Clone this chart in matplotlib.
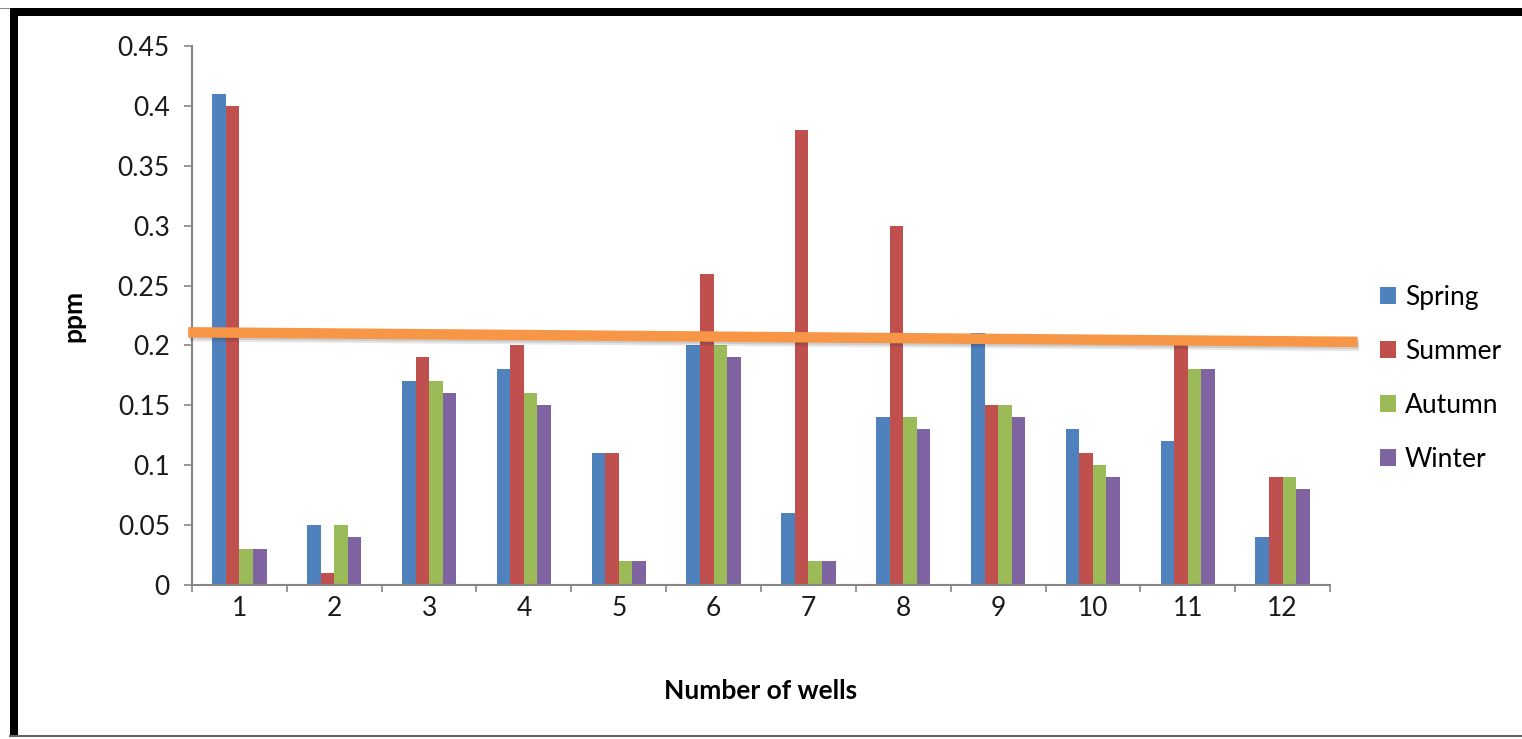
import numpy as np
import matplotlib
matplotlib.use("Agg")
import matplotlib.pyplot as plt
import matplotlib.patheffects as pe
from matplotlib.patches import Rectangle
from matplotlib.lines import Line2D

plt.rcParams['font.family'] = ['Lato', 'DejaVu Sans']

wells = [1, 2, 3, 4, 5, 6, 7, 8, 9, 10, 11, 12]
spring = [0.41, 0.05, 0.17, 0.18, 0.11, 0.20, 0.06, 0.14, 0.21, 0.13, 0.12, 0.04]
summer = [0.40, 0.01, 0.19, 0.20, 0.11, 0.26, 0.38, 0.30, 0.15, 0.11, 0.20, 0.09]
autumn = [0.03, 0.05, 0.17, 0.16, 0.02, 0.20, 0.02, 0.14, 0.15, 0.10, 0.18, 0.09]
winter = [0.03, 0.04, 0.16, 0.15, 0.02, 0.19, 0.02, 0.13, 0.14, 0.09, 0.18, 0.08]

# hand-drawn limit line (start/end in data units)
limit_x = [0.46, 12.79]
limit_y = [0.211, 0.203]

seasons = ["Spring", "Summer", "Autumn", "Winter"]
colors = ["#4F81BD", "#C0504D", "#9BBB59", "#8064A2"]
fs = 19

fig = plt.figure(figsize=(15.22, 7.39), dpi=100)
ax = fig.add_axes([192/1522, 1-585/739, (1330-192)/1522, (585-46)/739])

x = np.array(wells)
w = 0.143
for i, (vals, name, c) in enumerate(zip([spring, summer, autumn, winter], seasons, colors)):
    ax.bar(x + (i - 1.5) * w, vals, width=w, color=c, label=name, zorder=2)

ax.set_xlim(0.5, 12.5)
ax.set_ylim(0, 0.45)
ax.set_yticks(np.arange(0, 0.451, 0.05))
ax.set_yticklabels(["0", "0.05", "0.1", "0.15", "0.2", "0.25", "0.3", "0.35", "0.4", "0.45"])
ax.set_xticks(x)
ax.set_xticks(np.arange(0.5, 12.6, 1), minor=True)

for s in ["top", "right"]:
    ax.spines[s].set_visible(False)
for s in ["left", "bottom"]:
    ax.spines[s].set_color("#868686")
    ax.spines[s].set_linewidth(1.5)

ax.tick_params(axis="y", direction="out", length=6, color="#868686", width=1.2,
               labelsize=fs, pad=10, labelcolor="#1a1a1a")
ax.tick_params(axis="x", which="major", length=0, labelsize=fs, pad=8, labelcolor="#1a1a1a")
ax.tick_params(axis="x", which="minor", direction="out", length=5, color="#868686", width=1.2)

ax.set_ylabel("ppm", fontsize=fs, fontweight="bold", labelpad=23)
ax.set_xlabel("Number of wells", fontsize=fs, fontweight="bold", labelpad=42)

ax.legend(loc="center left", bbox_to_anchor=(1.023, 0.383), frameon=False,
          fontsize=fs, handlelength=0.6, handleheight=0.6, handletextpad=0.35,
          labelspacing=1.1)

# orange limit line with a soft shadow
ax.plot(limit_x, limit_y, color="#F79646", linewidth=7.5, solid_capstyle="butt",
        clip_on=False, zorder=5,
        path_effects=[pe.SimpleLineShadow(offset=(1, -3), alpha=0.12, shadow_color="#333333"),
                      pe.SimpleLineShadow(offset=(1, -1.5), alpha=0.15, shadow_color="#333333"),
                      pe.Normal()])

# frame around the figure
fig.add_artist(Rectangle((0, 1-9/739), 1, 1/739, transform=fig.transFigure,
                         color="#888888", lw=0))
fig.add_artist(Rectangle((10/1522, 1-16/739), 1-10/1522, 8/739, transform=fig.transFigure,
                         color="black", lw=0))
fig.add_artist(Rectangle((10/1522, 1-737/739), 8/1522, (737-9)/739, transform=fig.transFigure,
                         color="black", lw=0))
fig.add_artist(Line2D([10/1522, 1], [1-736/739, 1-736/739], transform=fig.transFigure,
                      color="#666666", lw=1.5))

fig.savefig("out.png", dpi=100)
